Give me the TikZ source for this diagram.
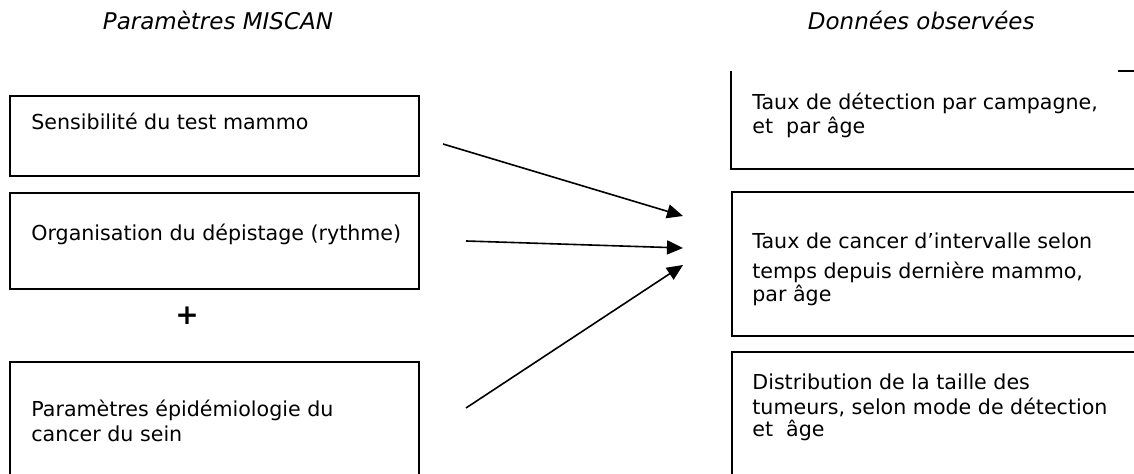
\documentclass[tikz,border=0pt]{standalone}
\usepackage{fontspec}
\setmainfont{DejaVu Sans}
\usetikzlibrary{arrows.meta}
\begin{document}
\begin{tikzpicture}[x=0.5pt, y=-0.5pt, font=\fontsize{10.3}{12}\selectfont, line join=miter,
	box/.style={draw, line width=1pt, rectangle, inner sep=0pt, minimum width=#1},
	box/.default=204.5pt,
	txt/.style={anchor=base west, inner sep=0pt},
	titre/.style={anchor=base, inner sep=0pt, font=\fontsize{11.5}{13}\selectfont\itshape},
	fleche/.style={-{Triangle[length=8pt,width=7pt]}, line width=0.8pt}]
	\useasboundingbox (0,0) rectangle (1134,474);
	\clip (0,0) rectangle (1134,474);
	% titres
	\node[titre] (tparam) at (218,30) {Paramètres MISCAN};
	\node[titre, anchor=base east] (tdonnees) at (1035,30) {Données observées};
	% parametres MISCAN
	\node[box, minimum height=40pt] (sens) at (214.5,136) {};
	\node[box, minimum height=48pt] (orga) at (214.5,241) {};
	\node[box, minimum height=64pt] (epid) at (214.5,426) {};
	\node[txt] (senst) at (31,130) {Sensibilité du test mammo};
	\node[txt] (orgat) at (31,241) {Organisation du dépistage (rythme)};
	\node[txt] (epida) at (31,417) {Paramètres épidémiologie du};
	\node[txt] (epidb) at (31,442) {cancer du sein};
	\node[inner sep=0pt, font=\fontsize{14}{16}\selectfont\bfseries] (plus) at (187,316) {+};
	% donnees observees
	\node[box=209pt, draw=none, minimum height=48pt] (detect) at (941,120) {};
	\draw[line width=1pt] (detect.north west) -- (detect.south west) -- (detect.south east);
	\draw[line width=1pt] ([xshift=-16.5pt]detect.north east) -- (detect.north east);
	\node[box=209pt, minimum height=72pt] (interv) at (941,264) {};
	\node[box=209pt, minimum height=69pt] (taille) at (941,421) {};
	\node[txt] (detecta) at (752,110) {Taux de détection par campagne,};
	\node[txt] (detectb) at (752,134) {et\ \ par âge};
	\node[txt] (interva) at (752,249) {Taux de cancer d’intervalle selon};
	\node[txt] (intervb) at (752,279) {temps depuis dernière mammo,};
	\node[txt] (intervc) at (752,302) {par âge};
	\node[txt] (taillea) at (752,390) {Distribution de la taille des};
	\node[txt] (tailleb) at (752,415) {tumeurs, selon mode de détection};
	\node[txt] (taillec) at (752,437) {et\ \ âge};
	% fleches
	\coordinate (d1) at (443,144); \coordinate (f1) at (683,216);
	\coordinate (d2) at (466,241); \coordinate (f2) at (683,248);
	\coordinate (d3) at (466,408); \coordinate (f3) at (683,265);
	\draw[fleche] (d1) -- (f1);
	\draw[fleche] (d2) -- (f2);
	\draw[fleche] (d3) -- (f3);
\end{tikzpicture}
\end{document}
